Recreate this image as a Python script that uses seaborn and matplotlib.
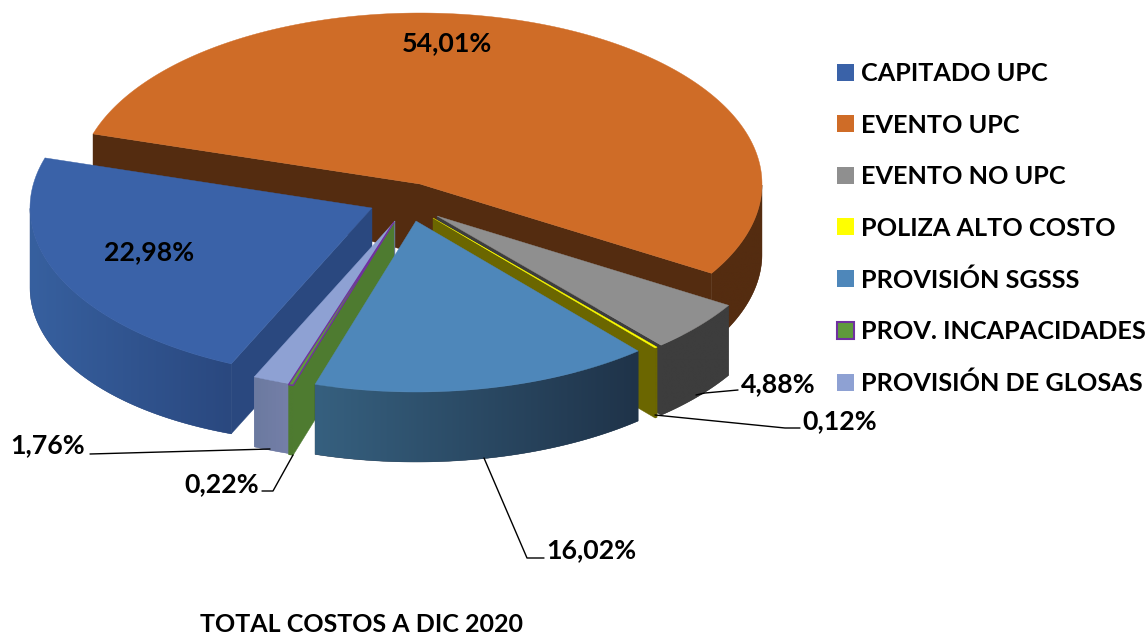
import numpy as np
import matplotlib
matplotlib.use("Agg")
import matplotlib.pyplot as plt
from matplotlib.colors import LinearSegmentedColormap
from matplotlib.patches import Patch, Polygon
import seaborn as sns

categories = ["CAPITADO UPC", "EVENTO UPC", "EVENTO NO UPC", "POLIZA ALTO COSTO",
              "PROVISIÓN SGSSS", "PROV. INCAPACIDADES", "PROVISIÓN DE GLOSAS"]
values = [22.98, 54.01, 4.88, 0.12, 16.02, 0.22, 1.76]
value_labels = ["22,98%", "54,01%", "4,88%", "0,12%", "16,02%", "0,22%", "1,76%"]
title_text = "TOTAL COSTOS A DIC 2020"

sns.set_theme(style="white")
plt.rcParams["font.family"] = ["Lato", "DejaVu Sans"]

top_colors = ["#3a62a8", "#cf6c27", "#8f8f8f", "#ffff00", "#4e87ba", "#5f9a3c", "#8ea1d3"]
side_left = ["#37609f", "#542c10", "#3d3d3d", "#6b6600", "#36607f", "#4e7b30", "#6b7aa0"]
side_right = ["#2a487f", "#542c10", "#3d3d3d", "#6b6600", "#1f3349", "#4e7b30", "#757fa8"]
cut_colors = ["#2a487f", "#542c10", "#3d3d3d", "#6b6600", "#2f5470", "#4e7b30", "#6b7aa0"]
edge_colors = [None, None, None, None, None, "#7030a0", None]

# pixel layout of the pseudo-3D pie
RX, RY = 342.0, 171.0
START = 245.7
apex = [(372, 208), (420, 184), (437, 216), (433, 218), (416, 221), (394, 222), (395, 221)]
draw_order = [1, 0, 2, 3, 6, 5, 4]
left_bulge = [0.045, 0, 0, 0, 0, 0, 0]


def depth(x, y, i=None):
    d = np.minimum(70.0, 35.0 + (np.asarray(y, float) - 135.0) * 0.73)
    if i is not None:
        d = d + left_bulge[i] * np.maximum(0.0, 232.0 - np.asarray(x, float))
    return d


def rim(i, deg):
    t = np.radians(deg)
    return apex[i][0] + RX * np.cos(t), apex[i][1] - RY * np.sin(t)


def cut_wall(ax, p, q, color):
    pts = [p, q, (q[0], q[1] + depth(q[0], q[1])), (p[0], p[1] + depth(p[0], p[1]))]
    ax.add_patch(Polygon(pts, closed=True, fc=color, ec=color, lw=0.3, zorder=2))


def arc_wall(ax, pts, i):
    """Outer curved wall, filled with a left-to-right shade clipped to its outline."""
    pts = np.array(pts)
    xs, ys = pts[:, 0], pts[:, 1]
    low = ys + depth(xs, ys, i)
    outline = np.vstack([pts, np.column_stack([xs, low])[::-1]])
    poly = Polygon(outline, closed=True, fc=side_right[i], ec=side_right[i], lw=0.3, zorder=2)
    ax.add_patch(poly)
    cmap = LinearSegmentedColormap.from_list("w", [side_left[i], side_right[i]])
    im = ax.imshow(np.linspace(0, 1, 256)[None, :], cmap=cmap, aspect="auto", zorder=2,
                   extent=(xs.min(), xs.max(), low.max(), ys.min()), interpolation="bilinear")
    im.set_clip_path(poly)


fig = plt.figure(figsize=(11.47, 6.34), dpi=100, facecolor="white")
ax = fig.add_axes([0, 0, 1, 1])
ax.axis("off")

shares = np.array(values) / np.sum(values) * 360.0
ends = START - np.cumsum(shares)
begins = ends + shares

for i in draw_order:
    a0, a1 = begins[i], ends[i]
    angles = np.linspace(a0, a1, max(3, int(abs(a0 - a1) * 2)))
    rim_pts = [rim(i, a) for a in angles]
    c = apex[i]
    front = [p for p, a in zip(rim_pts, angles) if np.sin(np.radians(a)) < 0]
    if len(front) > 1:
        arc_wall(ax, front, i)
    if np.sin(np.radians(a0 + 90)) < 0:
        cut_wall(ax, c, rim_pts[0], cut_colors[i])
    if np.sin(np.radians(a1 - 90)) < 0:
        cut_wall(ax, c, rim_pts[-1], cut_colors[i])
    ec = edge_colors[i] or top_colors[i]
    ax.add_patch(Polygon([c] + rim_pts, closed=True, fc=top_colors[i], ec=ec,
                         lw=1.0 if edge_colors[i] else 0.3, zorder=3))

ax.set_xlim(0, 1147)
ax.set_ylim(634, 0)
ax.set_aspect("auto")

text_kw = dict(fontsize=19.3, fontweight="bold", color="black", zorder=6)
ax.text(447, 43, value_labels[1], ha="center", va="center", **text_kw)
ax.text(149, 252, value_labels[0], ha="center", va="center", **text_kw)
ax.text(778, 384, value_labels[2], ha="center", va="center", **text_kw)
ax.text(840, 421, value_labels[3], ha="center", va="center", **text_kw)
ax.text(591, 550, value_labels[4], ha="center", va="center", **text_kw)
ax.text(222, 484, value_labels[5], ha="center", va="center", **text_kw)
ax.text(48, 445, value_labels[6], ha="center", va="center", **text_kw)
ax.text(361, 624, title_text, ha="center", va="center",
        fontsize=18, fontweight="bold", color="black", zorder=6)

leaders = [[(696, 395), (705, 393), (738, 390)],
           [(655, 415), (785, 428), (800, 428)],
           [(484, 458), (527, 558), (544, 558)],
           [(293, 455), (273, 491), (262, 491)],
           [(270, 449), (90, 454)]]
for line in leaders:
    lx, ly = zip(*line)
    ax.plot(lx, ly, color="black", lw=1.0, zorder=5)

handles = [Patch(fc=col, ec=(edge_colors[i] or col), lw=1.5 if edge_colors[i] else 0)
           for i, col in enumerate(top_colors)]
ax.legend(handles, categories, loc="upper left", bbox_to_anchor=(837 / 1147, 1 - 62 / 634),
          frameon=False, prop={"size": 18.2, "weight": "bold"}, labelcolor="black",
          labelspacing=1.13, handlelength=0.67, handleheight=0.67, handletextpad=0.28,
          borderpad=0, borderaxespad=0)

fig.savefig("out.png", dpi=100)
